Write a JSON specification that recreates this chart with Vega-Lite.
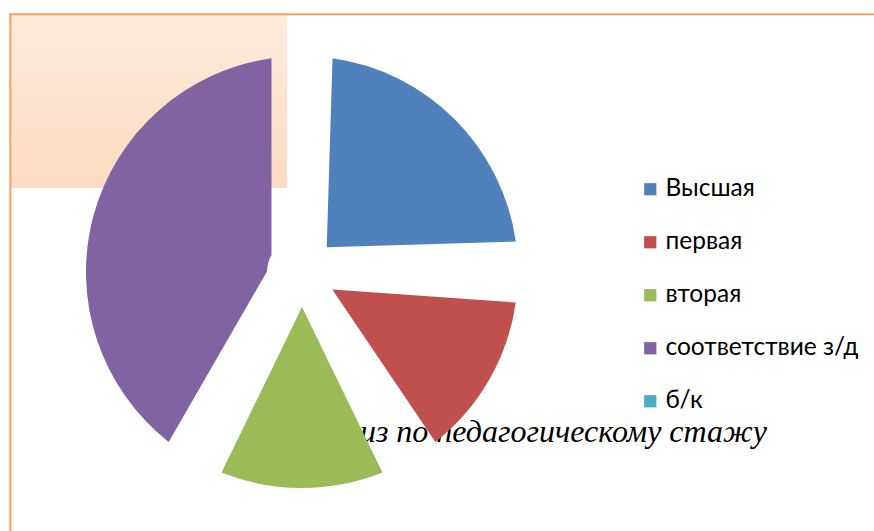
{
  "$schema": "https://vega.github.io/schema/vega-lite/v6.json",
  "width": 604,
  "height": 518,
  "autosize": {"type": "none"},
  "padding": {"left": 0, "top": 13, "right": 270, "bottom": 0},
  "background": "white",
  "config": {"view": {"stroke": null}},
  "data": {
    "values": [
      {"category": "Высшая", "value": 6, "order": 1},
      {"category": "первая", "value": 4, "order": 2},
      {"category": "вторая", "value": 4, "order": 3},
      {"category": "соответствие з/д", "value": 10, "order": 4},
      {"category": "б/к", "value": 0, "order": 5}
    ]
  },
  "layer": [
    {
      "data": {"values": [{}]},
      "mark": {
        "type": "rect",
        "x": 10, "x2": 287, "y": 0, "y2": 175,
        "fill": {
          "gradient": "linear", "x1": 0, "y1": 0, "x2": 0, "y2": 1,
          "stops": [{"offset": 0, "color": "#FDEBDC"}, {"offset": 1, "color": "#FDDBC2"}]
        }
      },
      "encoding": {}
    },
    {
      "data": {"values": [{}]},
      "mark": {
        "type": "rect",
        "x": 10.3, "x2": 1000, "y": 1.2, "y2": 800,
        "fill": "transparent",
        "stroke": "#F8A25E",
        "strokeWidth": 2
      },
      "encoding": {}
    },
    {
      "data": {"values": [{"title": "Анализ по педагогическому стажу"}]},
      "mark": {
        "type": "text",
        "x": 767, "y": 429,
        "align": "right",
        "baseline": "alphabetic",
        "font": "Liberation Serif",
        "fontStyle": "italic",
        "fontSize": 32,
        "color": "black"
      },
      "encoding": {"text": {"field": "title", "type": "nominal"}}
    },
    {
      "mark": {"type": "arc", "outerRadius": 216, "innerRadius": 35, "padAngle": 0.28},
      "encoding": {
        "theta": {"field": "value", "type": "quantitative", "stack": true},
        "order": {"field": "order", "type": "quantitative", "sort": "ascending"},
        "color": {
          "field": "category",
          "type": "nominal",
          "sort": ["Высшая", "первая", "вторая", "соответствие з/д", "б/к"],
          "scale": {
            "domain": ["Высшая", "первая", "вторая", "соответствие з/д", "б/к"],
            "range": ["#4F81BD", "#C0504D", "#9BBB59", "#8064A2", "#4BACC6"]
          },
          "legend": {
            "title": null,
            "orient": "none",
            "legendX": 638,
            "legendY": 164,
            "symbolType": "square",
            "symbolSize": 150,
            "symbolStrokeWidth": 0,
            "symbolOpacity": 1,
            "labelFont": "Lato",
            "labelFontSize": 24.5,
            "labelColor": "black",
            "labelOffset": 3,
            "rowPadding": 28,
            "labelLimit": 300
          }
        }
      }
    }
  ]
}
